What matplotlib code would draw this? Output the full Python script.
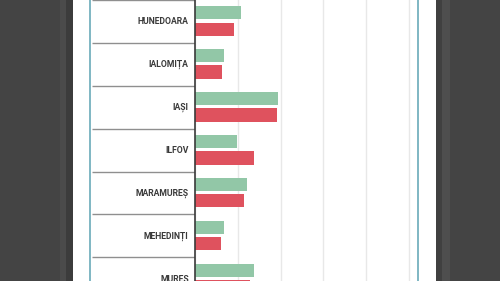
import matplotlib.pyplot as plt
from matplotlib.patches import Rectangle

# County rows visible in the crop
counties = ["HUNEDOARA", "IALOMIȚA", "IAȘI", "ILFOV", "MARAMUREȘ", "MEHEDINȚI", "MUREȘ"]
green_vals = [10.7, 6.8, 19.4, 9.8, 12.1, 6.8, 13.9]
red_vals = [9.1, 6.4, 19.1, 13.7, 11.4, 6.0, 12.9]
grid_ticks = [0, 10, 20, 30, 40, 50]

W, H = 500, 281
ROW = 42.9  # row height in px
fig = plt.figure(figsize=(5, 2.81), dpi=100, facecolor="#444444")

# panel background and side strips (behind the axes)
def px_rect(x0, x1, color):
    fig.patches.append(Rectangle((x0 / W, 0), (x1 - x0) / W, 1, transform=fig.transFigure,
                                 facecolor=color, edgecolor="none", zorder=-5))

px_rect(60, 66, "#4b4b4b")
px_rect(66, 73, "#3c3c3c")
px_rect(73, 436, "#ffffff")
px_rect(436, 442, "#404040")
px_rect(442, 450, "#4e4e4e")

ylim = (H / ROW - 0.5, -0.5)
ypos = list(range(len(counties)))

# label column
lax = fig.add_axes([90 / W, 0, 105 / W, 1])
lax.set_facecolor("white")
lax.set_xlim(0, 1)
lax.set_ylim(*ylim)
for s in ["top", "bottom", "right"]:
    lax.spines[s].set_visible(False)
lax.spines["left"].set_color("#6aaab9")
lax.spines["left"].set_linewidth(1.2)
lax.set_xticks([])
lax.set_yticks([])
for i in range(len(counties) + 1):
    lax.hlines(i - 0.5, 0.02, 1, color="#8f8f8f", linewidth=1.0)
for y, name in zip(ypos, counties):
    lax.text(0.94, y, name, ha="right", va="center", fontsize=6.2,
             family="Roboto", fontweight="bold", color="#3a3a3a")

# bars
ax = fig.add_axes([195 / W, 0, 223 / W, 1])
ax.set_facecolor("white")
ax.set_xlim(0, 52.1)
ax.set_ylim(*ylim)
ax.barh([y - 0.2 for y in ypos], green_vals, height=0.3, color="#92c7a7", zorder=2)
ax.barh([y + 0.18 for y in ypos], red_vals, height=0.31, color="#df525e", zorder=2)
ax.set_xticks(grid_ticks)
ax.set_yticks([])
ax.tick_params(axis="x", length=0, labelbottom=False)
ax.grid(axis="x", color="#e8e8e8", linewidth=1.0, zorder=0)
for s in ["top", "bottom"]:
    ax.spines[s].set_visible(False)
ax.spines["left"].set_color("#3a3a3a")
ax.spines["left"].set_linewidth(1.2)
ax.spines["left"].set_zorder(3)
ax.spines["right"].set_color("#6aaab9")
ax.spines["right"].set_linewidth(1.2)

fig.savefig("out.png", dpi=100, facecolor=fig.get_facecolor())
